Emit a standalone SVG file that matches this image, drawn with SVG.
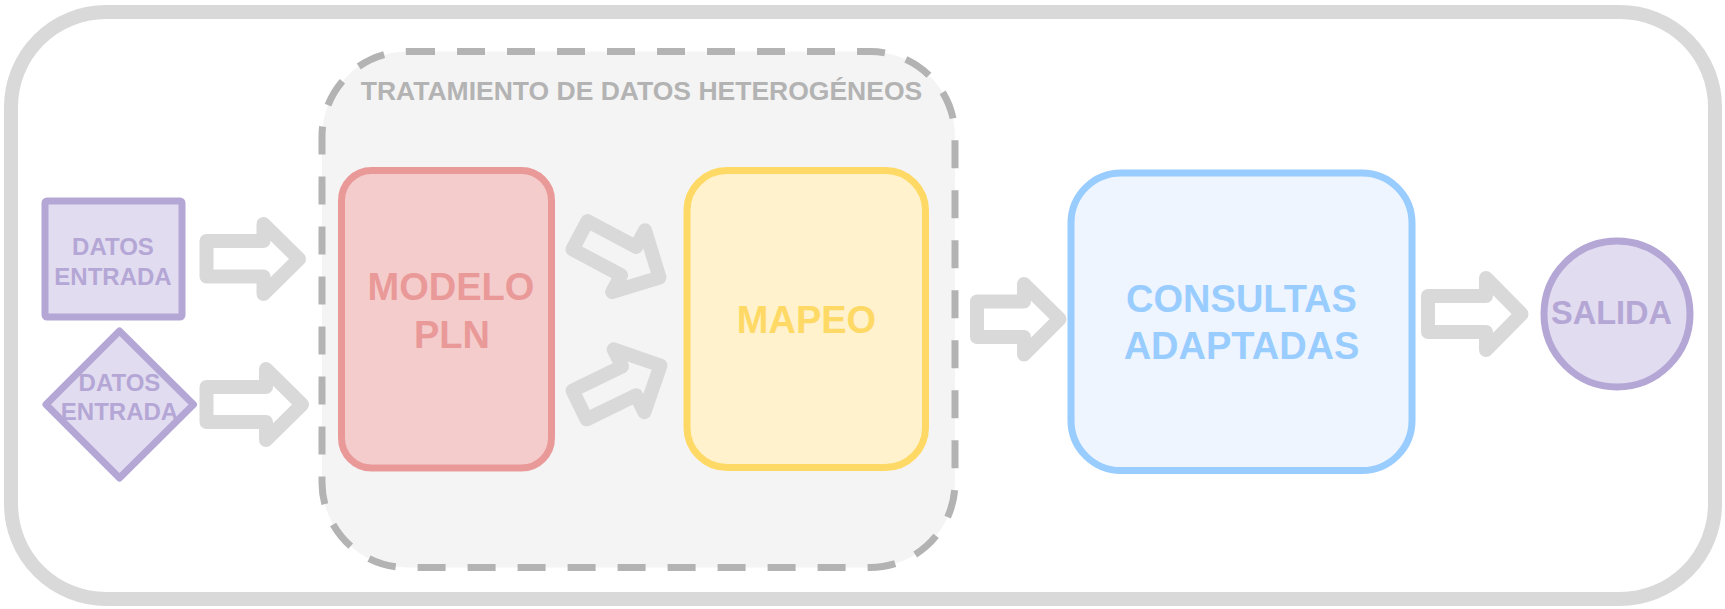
<svg xmlns="http://www.w3.org/2000/svg" width="1725" height="609" viewBox="0 0 1725 609">
<style>
text{font-family:"Liberation Sans",Arial,sans-serif;font-weight:bold;text-anchor:middle}
.arrow{fill:none;stroke:#d9d9d9;stroke-width:14;stroke-linejoin:round}
.purple{fill:#e2dcf0;stroke:#b4a7d6;stroke-width:7}
.ptxt{fill:#b4a7d6}
</style>
<defs>
<path id="diag" d="M-90,-16 L-35,-16 L-35,-35 L0,0 L-35,35 L-35,16 L-90,16 Z"/>
</defs>
<rect id="outer" x="11" y="12" width="1704" height="587" rx="95" ry="95" fill="#ffffff" stroke="#d9d9d9" stroke-width="14"/>
<g id="container">
<rect x="322" y="51.5" width="633" height="516" rx="85" ry="85" fill="#f4f4f4" stroke="#b3b3b3" stroke-width="7" stroke-dasharray="28 22"/>
<text x="641.5" y="100" font-size="26.5" fill="#b3b3b3">TRATAMIENTO DE DATOS HETEROGÉNEOS</text>
</g>
<g id="datos-rect">
<rect class="purple" x="45" y="201" width="137" height="116" rx="2"/>
<text class="ptxt" x="113" y="255" font-size="24">DATOS</text>
<text class="ptxt" x="113" y="285" font-size="24">ENTRADA</text>
</g>
<g id="datos-diamond">
<polygon class="purple" points="119.5,331 193.5,404.5 119.5,478 46,404.5" stroke-linejoin="round"/>
<text class="ptxt" x="119.5" y="391" font-size="24">DATOS</text>
<text class="ptxt" x="119.5" y="420" font-size="24">ENTRADA</text>
</g>
<g id="modelo">
<rect x="341.5" y="170.5" width="210" height="297.5" rx="30" ry="30" fill="#f4cccc" stroke="#ea9999" stroke-width="7"/>
<text x="451" y="300" font-size="38" fill="#ea9999">MODELO</text>
<text x="452" y="348" font-size="38" fill="#ea9999">PLN</text>
</g>
<g id="mapeo">
<rect x="687" y="170.5" width="238.5" height="297" rx="40" ry="40" fill="#fff2cc" stroke="#ffd966" stroke-width="7"/>
<text x="806.5" y="333" font-size="38" fill="#ffd966">MAPEO</text>
</g>
<g id="consultas">
<rect x="1071" y="173" width="341" height="297.5" rx="50" ry="50" fill="#eef5ff" stroke="#99ccff" stroke-width="7"/>
<text x="1241.5" y="312" font-size="38" fill="#99ccff">CONSULTAS</text>
<text x="1241.5" y="359" font-size="38" fill="#99ccff">ADAPTADAS</text>
</g>
<g id="salida">
<circle cx="1617" cy="314" r="73" class="purple"/>
<text class="ptxt" x="1611.5" y="324" font-size="32.5">SALIDA</text>
</g>
<g id="connectors">
<path class="arrow" d="M206.5,241 L263.5,241 L263.5,224 L299,259 L263.5,294 L263.5,276.5 L206.5,276.5 Z"/>
<path class="arrow" d="M206.5,387 L266,387 L266,369 L302,404.5 L266,440 L266,422 L206.5,422 Z"/>
<use href="#diag" class="arrow" transform="translate(659.5,277.5) rotate(28)"/>
<use href="#diag" class="arrow" transform="translate(660.5,365.5) rotate(-26)"/>
<path class="arrow" d="M977,301.5 L1024,301.5 L1024,284 L1059.5,319 L1024,354.5 L1024,337 L977,337 Z"/>
<path class="arrow" d="M1428,296 L1486,296 L1486,278 L1521.5,314 L1486,350 L1486,332 L1428,332 Z"/>
</g>
</svg>
